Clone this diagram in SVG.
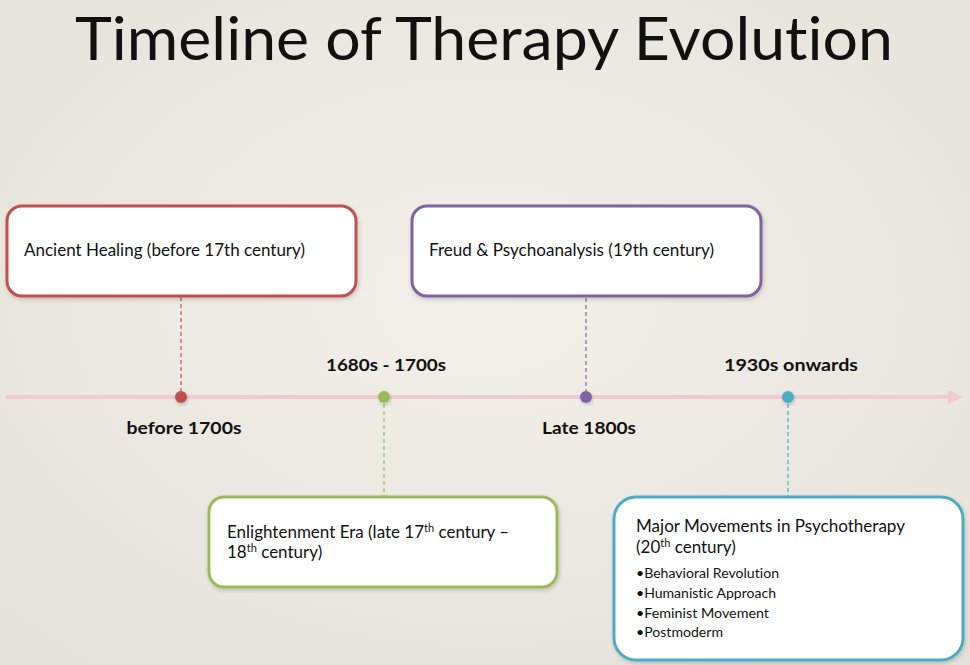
<svg xmlns="http://www.w3.org/2000/svg" width="970" height="665" viewBox="0 0 970 665">
<defs>
<radialGradient id="bg" cx="0.5" cy="0.45" r="0.75">
<stop offset="0" stop-color="#F2F0EA"/>
<stop offset="1" stop-color="#E4E1D8"/>
</radialGradient>
<filter id="sh" x="-10%" y="-10%" width="120%" height="130%">
<feDropShadow dx="1" dy="2" stdDeviation="2" flood-color="#000" flood-opacity="0.18"/>
</filter>
<marker id="arr" viewBox="0 0 10 10" refX="0" refY="5" markerWidth="3.75" markerHeight="3.75" orient="auto" markerUnits="strokeWidth">
<path d="M0,0 L10,5 L0,10 z" fill="#EFCBCF"/>
</marker>
</defs>
<style>
text{font-family:Lato,"Liberation Sans",sans-serif;fill:#111;font-variant-ligatures:none}
.box{fill:#FFFFFF;stroke-width:3;filter:url(#sh)}
.t{font-size:17px}
.lbl{font-size:17px;font-weight:bold;text-anchor:middle}
.b{font-size:12.5px}
.sup{font-size:11px}
.dash{stroke-width:1.2;stroke-dasharray:4 3;fill:none}
.dot{filter:url(#sh)}
</style>
<rect width="970" height="665" fill="url(#bg)"/>
<text x="484" y="60" font-size="60" text-anchor="middle" textLength="818" lengthAdjust="spacingAndGlyphs">Timeline of Therapy Evolution</text>

<g id="connectors">
<line x1="6" y1="397" x2="948" y2="397" stroke="#EFCBCF" stroke-width="4" marker-end="url(#arr)"/>
<line class="dash" x1="181" y1="297" x2="181" y2="397" stroke="#C0504D"/>
<line class="dash" x1="586" y1="298" x2="586" y2="397" stroke="#8064A2"/>
<line class="dash" x1="384" y1="397" x2="384" y2="496" stroke="#9BBB59"/>
<line class="dash" x1="788" y1="397" x2="788" y2="496" stroke="#4BACC6"/>
</g>

<g id="dots">
<circle class="dot" cx="181" cy="397" r="6" fill="#C0504D"/>
<circle class="dot" cx="384" cy="397" r="6" fill="#9BBB59"/>
<circle class="dot" cx="586" cy="397" r="6" fill="#8064A2"/>
<circle class="dot" cx="788" cy="397" r="6" fill="#4BACC6"/>
</g>

<g id="labels">
<text class="lbl" x="184" y="434" textLength="115" lengthAdjust="spacingAndGlyphs">before 1700s</text>
<text class="lbl" x="386" y="371" textLength="120" lengthAdjust="spacingAndGlyphs">1680s - 1700s</text>
<text class="lbl" x="589" y="434" textLength="94" lengthAdjust="spacingAndGlyphs">Late 1800s</text>
<text class="lbl" x="791" y="371" textLength="134" lengthAdjust="spacingAndGlyphs">1930s onwards</text>
</g>

<g id="node-ancient">
<rect class="box" x="7" y="206" width="349" height="90" rx="15" stroke="#C0504D"/>
<text class="t" x="24" y="256" textLength="281" lengthAdjust="spacingAndGlyphs">Ancient Healing (before 17th century)</text>
</g>

<g id="node-freud">
<rect class="box" x="412" y="206" width="349" height="90" rx="15" stroke="#8064A2"/>
<text class="t" x="429" y="256" textLength="285" lengthAdjust="spacingAndGlyphs">Freud &amp; Psychoanalysis (19th century)</text>
</g>

<g id="node-enlightenment">
<rect class="box" x="209" y="497" width="348" height="90" rx="15" stroke="#9BBB59"/>
<text class="t" x="227" y="538">Enlightenment Era (late 17<tspan class="sup" dy="-6">th</tspan><tspan dy="6"> century –</tspan></text>
<text class="t" x="227" y="558">18<tspan class="sup" dy="-6">th</tspan><tspan dy="6"> century)</tspan></text>
</g>

<g id="node-major">
<rect class="box" x="614" y="497" width="349" height="163" rx="22" stroke="#4BACC6"/>
<text class="t" x="636" y="532" textLength="269" lengthAdjust="spacingAndGlyphs">Major Movements in Psychotherapy</text>
<text class="t" x="636" y="553">(20<tspan class="sup" dy="-6">th</tspan><tspan dy="6"> century)</tspan></text>
<text class="b" x="636" y="578" textLength="143" lengthAdjust="spacingAndGlyphs">•Behavioral Revolution</text>
<text class="b" x="636" y="598" textLength="140" lengthAdjust="spacingAndGlyphs">•Humanistic Approach</text>
<text class="b" x="636" y="618" textLength="133" lengthAdjust="spacingAndGlyphs">•Feminist Movement</text>
<text class="b" x="636" y="637" textLength="87" lengthAdjust="spacingAndGlyphs">•Postmoderm</text>
</g>
</svg>
